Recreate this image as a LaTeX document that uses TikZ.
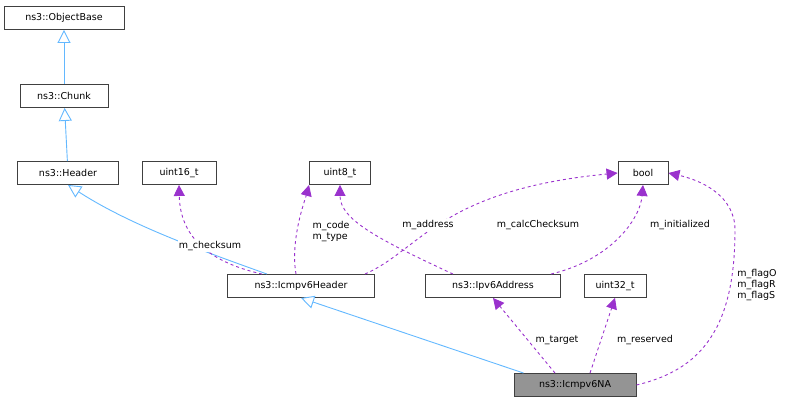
\documentclass[tikz,border=0pt]{standalone}
\usepackage{fontspec}
\setmainfont{DejaVu Sans}
\usetikzlibrary{arrows.meta}
\begin{document}
\begin{tikzpicture}[x=1pt,y=-1pt,line width=0.9pt,
  box/.style={draw=black!75,fill=white,minimum height=23pt,inner xsep=4pt,font=\fontsize{9.5}{11}\selectfont},
  inh/.style={draw={rgb,255:red,99;green,184;blue,255},-{Triangle[open,length=13pt,width=13pt,fill=white]}},
  mem/.style={draw={rgb,255:red,154;green,50;blue,205},dashed,-{Triangle[length=11pt,width=11pt]}},
  lab/.style={font=\fontsize{9.5}{11}\selectfont,align=left,fill=white,inner sep=1pt}]
\useasboundingbox (0,0) rectangle (791,405);
\node[box,minimum width=120pt] (ob) at (64,18) {ns3::ObjectBase};
\node[box,minimum width=88pt] (ch) at (64,96) {ns3::Chunk};
\node[box,minimum width=101pt] (hd) at (68,173) {ns3::Header};
\node[box,minimum width=74pt] (u16) at (179,173) {uint16\_t};
\node[box,minimum width=61pt] (u8) at (340,173) {uint8\_t};
\node[box,minimum width=50pt] (bo) at (643,173) {bool};
\node[box,minimum width=147pt] (ih) at (301,286) {ns3::Icmpv6Header};
\node[box,minimum width=135pt] (ia) at (493,286) {ns3::Ipv6Address};
\node[box,minimum width=62pt] (u32) at (615,286) {uint32\_t};
\node[box,minimum width=122pt,fill=black!42] (na) at (575,385) {ns3::Icmpv6NA};
\draw[inh] (ch) -- (ob);
\draw[inh] (hd) -- (ch);
\draw[inh] (ih.north west) ++(40,0) .. controls (200,250) and (130,225) .. (hd.south);
\draw[inh] (na.north west) ++(10,0) -- (ih.south);
\draw[mem] (ih.north west) ++(35,0) .. controls (200,260) and (180,230) .. (u16.south);
\draw[mem] (ih.north) ++(-5,0) .. controls (290,240) and (305,200) .. (u8.south west);
\draw[mem] (ih.north east) ++(-10,0) .. controls (420,250) and (440,190) .. (bo.west);
\draw[mem] (ia.north) ++(-40,0) .. controls (380,240) and (340,220) .. (u8.south);
\draw[mem] (ia.north east) ++(-10,0) .. controls (610,260) and (640,220) .. (bo.south);
\draw[mem] (na.north) ++(-20,0) -- (ia.south);
\draw[mem] (na.north) ++(15,0) -- (u32.south);
\draw[mem] (na.east) .. controls (700,370) and (735,330) .. (735,230) .. controls (735,195) and (700,180) .. (bo.east);
\node[lab] at (210,246) {m\_checksum};
\node[lab] at (331,232) {m\_code\\m\_type};
\node[lab] at (538,225) {m\_calcChecksum};
\node[lab] at (428,225) {m\_address};
\node[lab] at (680,225) {m\_initialized};
\node[lab] at (557,340) {m\_target};
\node[lab] at (645,340) {m\_reserved};
\node[lab] at (757,285) {m\_flagO\\m\_flagR\\m\_flagS};
\end{tikzpicture}
\end{document}
